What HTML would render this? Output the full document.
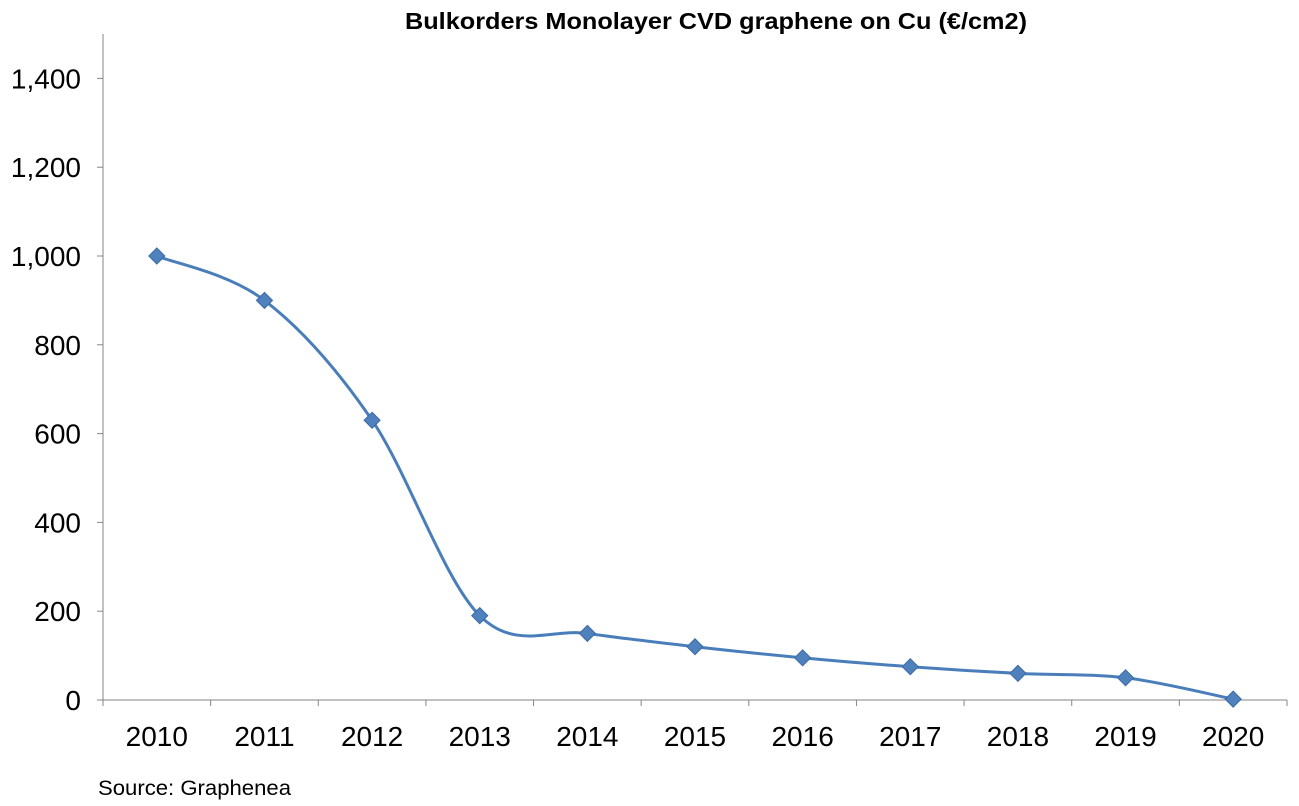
<!DOCTYPE html>
<html><head><meta charset="utf-8"><style>
body{margin:0;background:#fff;}
svg{display:block;font-family:"Liberation Sans",Arial,sans-serif;}
</style></head><body>
<svg id="chart" width="1299" height="806" viewBox="0 0 1299 806">
<text x="716" y="29" text-anchor="middle" font-size="23" font-weight="bold" fill="#000" textLength="622" lengthAdjust="spacingAndGlyphs">Bulkorders Monolayer CVD graphene on Cu (€/cm2)</text>
<g id="axes"></g>
<g id="series"></g>
<text x="98" y="795" font-size="21" fill="#000" textLength="193" lengthAdjust="spacingAndGlyphs">Source: Graphenea</text>
</svg>
<script>
const categories=["2010","2011","2012","2013","2014","2015","2016","2017","2018","2019","2020"];
const values=[1000,900,630,190,150,120,95,75,60,50,2];
const yTicks=[0,200,400,600,800,1000,1200,1400];
const yTickLabels=["0","200","400","600","800","1,000","1,200","1,400"];
const yMax=1500;
const L=103,R=1287,T=34,B=700;
const ns="http://www.w3.org/2000/svg";
const band=(R-L)/categories.length;
const xs=i=>L+band*(i+0.5);
const ys=v=>B-(v/yMax)*(B-T);
const axes=document.getElementById('axes'),ser=document.getElementById('series');
function mk(tag,attrs,parent){const e=document.createElementNS(ns,tag);for(const k in attrs)e.setAttribute(k,attrs[k]);parent.appendChild(e);return e;}
let ya=mk('line',{x1:L,y1:T,x2:L,y2:B,stroke:'#868686','stroke-width':1},axes);


let xa=mk('line',{x1:L,y1:B,x2:R,y2:B,stroke:'#868686','stroke-width':1},axes);


yTicks.forEach((t,i)=>{
 const y=ys(t);
 let tk=mk('line',{x1:L-6,y1:y,x2:L,y2:y,stroke:'#868686'},axes);
 
 
 let tx=mk('text',{x:L-22,y:y+10,'text-anchor':'end','font-size':28,fill:'#000'},axes);
 tx.textContent=yTickLabels[i];
 
 
});
for(let i=0;i<=categories.length;i++){
 const x=L+band*i;
 let tk=mk('line',{x1:x,y1:B,x2:x,y2:B+6,stroke:'#868686'},axes);
 
 
}
categories.forEach((c,i)=>{
 let tx=mk('text',{x:xs(i),y:B+46,'text-anchor':'middle','font-size':28,fill:'#000'},axes);
 tx.textContent=c;
 
 
});
const pts=values.map((v,i)=>[xs(i),ys(v)]);
let d='M'+pts[0][0]+','+pts[0][1];
for(let i=0;i<pts.length-1;i++){
 const p0=pts[Math.max(0,i-1)],p1=pts[i],p2=pts[i+1],p3=pts[Math.min(pts.length-1,i+2)];
 const k=1/6;
 const c1=[p1[0]+(p2[0]-p0[0])*k,p1[1]+(p2[1]-p0[1])*k];
 const c2=[p2[0]-(p3[0]-p1[0])*k,p2[1]-(p3[1]-p1[1])*k];
 d+=' C'+c1+' '+c2+' '+p2;
}
let line=mk('path',{d:d,fill:'none',stroke:'#4a7ebb','stroke-width':3},ser);


pts.forEach(p=>{
 const s=8;
 let m=mk('path',{d:`M${p[0]},${p[1]-s} L${p[0]+s},${p[1]} L${p[0]},${p[1]+s} L${p[0]-s},${p[1]} Z`,fill:'#4f81bd',stroke:'#3a6aa5','stroke-width':1},ser);
 
 
});
</script>
</body></html>
